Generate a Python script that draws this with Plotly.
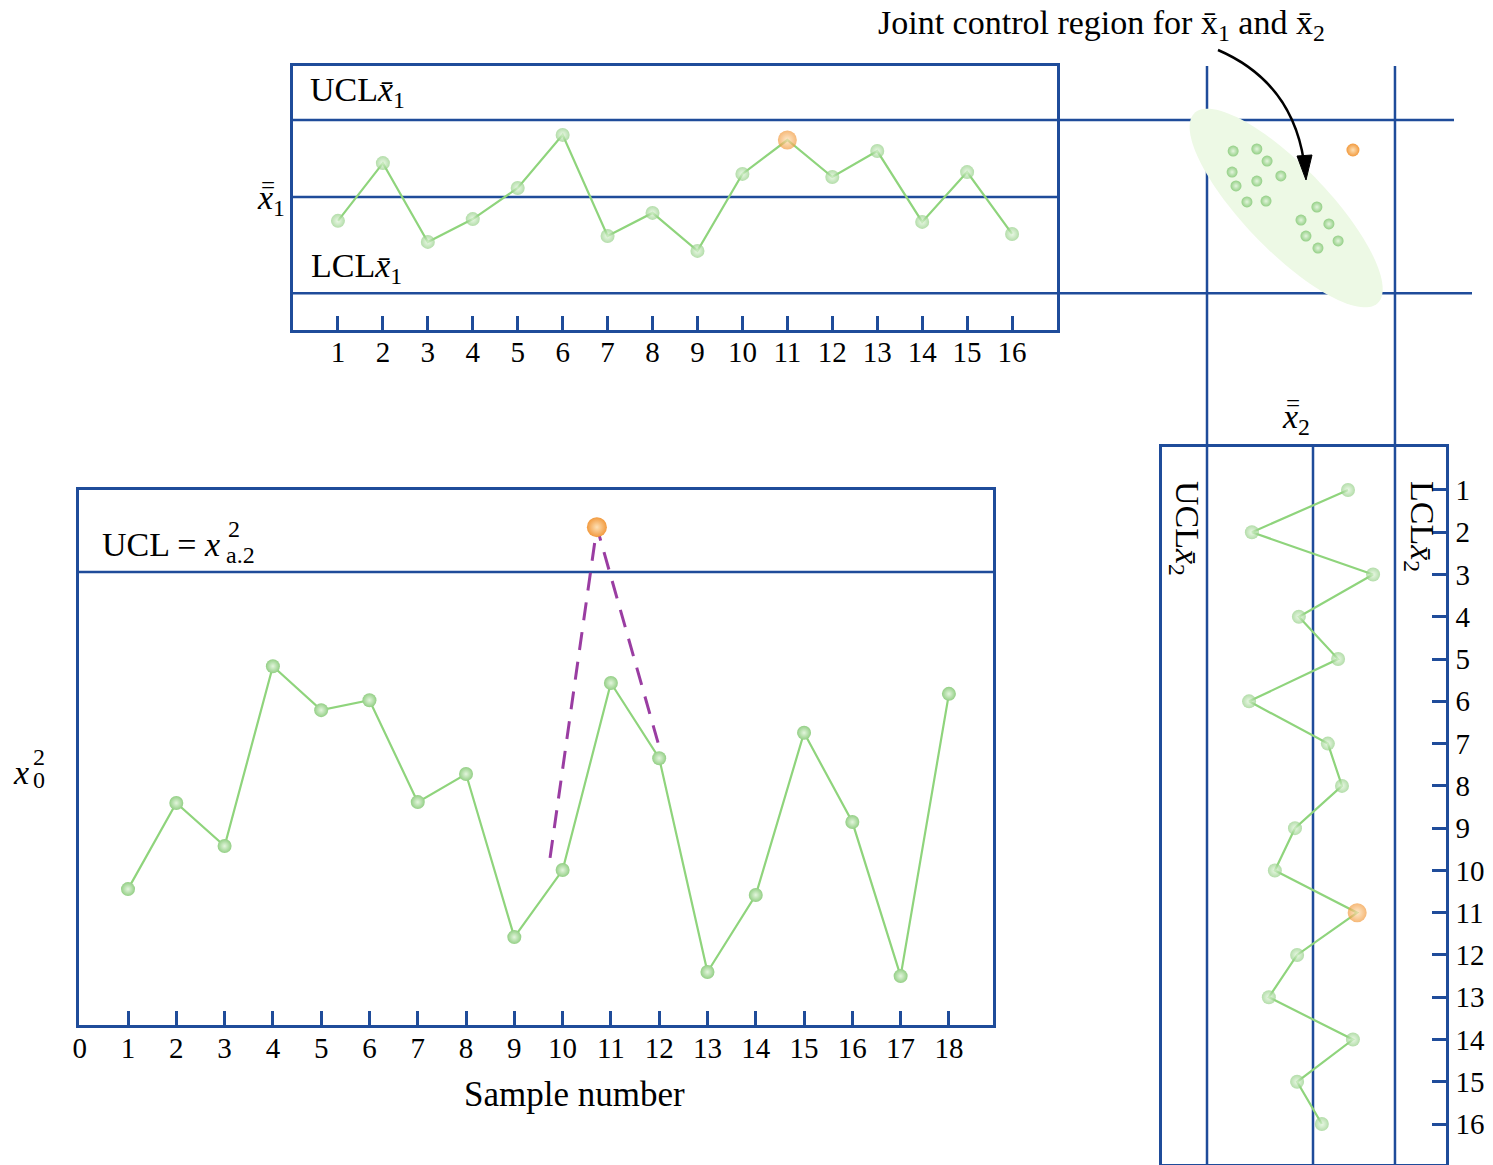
import plotly.graph_objects as go
import numpy as np

W, H = 1493, 1165
def X(px): return px / W
def Y(py): return 1 - py / H

BLUE = "#1f4c9a"
GREEN_LINE = "#8fd47c"
GREEN = "#93cf85"
GREEN_C = "#e3f5dd"
ORANGE = "#f29a3e"
ORANGE_C = "#fde0b5"
PURPLE = "#9a3da2"
FONT = "Liberation Serif"

# ---------------- data ----------------
# x-bar-1 chart (top)
samples16 = list(range(1, 17))
xbar1 = [9.07, 11.32, 8.25, 9.14, 10.35, 12.42, 8.48, 9.38, 7.90, 10.90, 12.22, 10.78, 11.79, 9.03, 10.97, 8.56]
xbar1_ucl, xbar1_center, xbar1_lcl = 13.0, 10.0, 6.25
out_sample = 11

# x-bar-2 chart (right, rotated)
xbar2 = [9.01, 11.73, 8.30, 10.40, 9.29, 11.81, 9.58, 9.18, 10.51, 11.08, 8.75, 10.45, 11.25, 8.87, 10.45, 9.75]
xbar2_ucl, xbar2_center, xbar2_lcl = 13.0, 10.0, 7.68

# chi-square chart (bottom)
samples18 = list(range(1, 19))
chi2 = [3.00, 4.90, 3.95, 7.92, 6.95, 7.17, 4.92, 5.54, 1.94, 3.42, 7.55, 5.89, 1.17, 2.87, 6.45, 4.48, 1.08, 7.31]
chi2_ucl = 10.0
chi2_out_x, chi2_out_y = [10.71], [10.99]
dash_x = [9.74, 10.71, 11.99]
dash_y = [3.69, 10.99, 6.18]

# joint control region scatter (x = x-bar-2, y = x-bar-1)
joint_x = [12.26, 11.59, 11.30, 12.29, 11.59, 10.91, 12.18, 11.87, 11.33, 9.89, 10.34, 9.55, 10.20, 9.29, 9.86]
joint_y = [11.79, 11.87, 11.40, 10.97, 10.62, 10.82, 10.43, 9.81, 9.84, 9.61, 9.10, 8.95, 8.48, 8.29, 8.01]
joint_out_x, joint_out_y = [8.87], [11.83]

# ---------------- axes geometry ----------------
top_xdom = [X(293), X(1057)]
top_ydom = [Y(330), Y(66)]
top_xrange = [0, 17]
top_yrange = [4.819, 15.103]

bot_xdom = [X(79), X(993)]
bot_ydom = [Y(1025), Y(490)]
bot_xrange = [-0.015, 18.913]
bot_yrange = [0, 11.81]

r_xdom = [X(1162), X(1446)]
r_ydom = [Y(1164), Y(447)]
r_xrange = [14.274, 6.236]
r_yrange = [16.945, -0.017]

fig = go.Figure()

def mk_colors(n, out_idx):
    c = [GREEN] * n; g = [GREEN_C] * n; s = [14] * n
    if out_idx is not None:
        c[out_idx] = ORANGE; g[out_idx] = ORANGE_C; s[out_idx] = 19
    return c, g, s

# top chart
c, g, s = mk_colors(16, out_sample - 1)
fig.add_trace(go.Scatter(x=samples16, y=xbar1, mode="lines+markers", xaxis="x", yaxis="y",
                         line=dict(color=GREEN_LINE, width=2.2),
                         marker=dict(color=c, size=s, gradient=dict(type="radial", color=g), line=dict(width=0))))

# bottom chart
fig.add_trace(go.Scatter(x=dash_x, y=dash_y, mode="lines", xaxis="x2", yaxis="y2",
                         line=dict(color=PURPLE, width=3, dash="18px,12px")))
fig.add_trace(go.Scatter(x=samples18, y=chi2, mode="lines+markers", xaxis="x2", yaxis="y2",
                         line=dict(color=GREEN_LINE, width=2.2),
                         marker=dict(color=GREEN, size=14, gradient=dict(type="radial", color=GREEN_C), line=dict(width=0))))
fig.add_trace(go.Scatter(x=chi2_out_x, y=chi2_out_y, mode="markers", xaxis="x2", yaxis="y2",
                         marker=dict(color=ORANGE, size=20, gradient=dict(type="radial", color=ORANGE_C), line=dict(width=0))))

# right chart
fig.add_trace(go.Scatter(x=xbar2, y=samples16, mode="lines+markers", xaxis="x3", yaxis="y3",
                         line=dict(color=GREEN_LINE, width=2.2),
                         marker=dict(color=c, size=s, gradient=dict(type="radial", color=g), line=dict(width=0))))

# joint region
fig.add_trace(go.Scatter(x=joint_x, y=joint_y, mode="markers", xaxis="x4", yaxis="y4",
                         marker=dict(color=GREEN, size=11, gradient=dict(type="radial", color=GREEN_C), line=dict(width=0))))
fig.add_trace(go.Scatter(x=joint_out_x, y=joint_out_y, mode="markers", xaxis="x4", yaxis="y4",
                         marker=dict(color=ORANGE, size=13, gradient=dict(type="radial", color=ORANGE_C), line=dict(width=0))))

# ---------------- ellipse (joint control region) ----------------
ell_cx, ell_cy = 10.76, 9.57          # centre in (x-bar-2, x-bar-1) units
ell_a, ell_b, ell_ang = 132, 42, np.deg2rad(46)   # semi axes (px) and tilt
px_per_x = (1446 - 1162) / (r_xrange[0] - r_xrange[1])
px_per_y = (330 - 66) / (top_yrange[1] - top_yrange[0])
t = np.linspace(0, 2 * np.pi, 120)
dxp = ell_a * np.cos(t) * np.cos(ell_ang) - ell_b * np.sin(t) * np.sin(ell_ang)
dyp = ell_a * np.cos(t) * np.sin(ell_ang) + ell_b * np.sin(t) * np.cos(ell_ang)
ex = ell_cx - dxp / px_per_x     # x axis is reversed
ey = ell_cy - dyp / px_per_y     # screen y is down
path = "M " + " L ".join(f"{a:.4f},{b:.4f}" for a, b in zip(ex, ey)) + " Z"

shapes = [
    dict(type="path", path=path, xref="x4", yref="y4", fillcolor="#edf9e5", line=dict(width=0), layer="below"),
    dict(type="line", xref="x domain", yref="y", x0=0, x1=1, y0=xbar1_center, y1=xbar1_center,
         line=dict(color=BLUE, width=2.5), layer="below"),
    dict(type="line", xref="paper", yref="y", x0=X(293), x1=X(1454), y0=xbar1_ucl, y1=xbar1_ucl,
         line=dict(color=BLUE, width=2.5), layer="below"),
    dict(type="line", xref="paper", yref="y", x0=X(293), x1=X(1472), y0=xbar1_lcl, y1=xbar1_lcl,
         line=dict(color=BLUE, width=2.5), layer="below"),
    dict(type="line", xref="x2 domain", yref="y2", x0=0, x1=1, y0=chi2_ucl, y1=chi2_ucl,
         line=dict(color=BLUE, width=2.5), layer="below"),
    dict(type="line", xref="x3", yref="y3 domain", x0=xbar2_center, x1=xbar2_center, y0=0, y1=1,
         line=dict(color=BLUE, width=2.5), layer="below"),
    dict(type="line", xref="x3", yref="paper", x0=xbar2_ucl, x1=xbar2_ucl, y0=Y(1165), y1=Y(66),
         line=dict(color=BLUE, width=2.5), layer="below"),
    dict(type="line", xref="x3", yref="paper", x0=xbar2_lcl, x1=xbar2_lcl, y0=Y(1165), y1=Y(66),
         line=dict(color=BLUE, width=2.5), layer="below"),
    dict(type="path", xref="paper", yref="paper",
         path=f"M {X(1218)},{Y(50)} Q {X(1292)},{Y(82)} {X(1304)},{Y(162)}",
         line=dict(color="black", width=2.5)),
    dict(type="path", xref="paper", yref="paper",
         path=f"M {X(1297)},{Y(156)} L {X(1312)},{Y(155)} L {X(1306)},{Y(180)} Z",
         fillcolor="black", line=dict(color="black", width=1)),
]

def ann(text, px, py, size=34, xanchor="left", yanchor="middle", angle=0):
    return dict(text=text, x=X(px), y=Y(py), xref="paper", yref="paper", showarrow=False,
                xanchor=xanchor, yanchor=yanchor, textangle=angle, borderpad=0,
                font=dict(family=FONT, size=size, color="black"))

annotations = [
    ann("Joint control region for x\u0304<sub>1</sub> and x\u0304<sub>2</sub>", 1101, 25, size=34, xanchor="center"),
    ann("UCL<i>x\u0304</i><sub>1</sub>", 309, 92, size=34),
    ann("LCL<i>x\u0304</i><sub>1</sub>", 310, 268, size=34),
    ann("<i>x</i><sub>1</sub>", 271, 200, size=34, xanchor="center"),
    ann("=", 268, 185, size=25, xanchor="center"),
    ann("<i>x</i><sub>2</sub>", 1296, 419, size=34, xanchor="center"),
    ann("=", 1293, 403, size=25, xanchor="center"),
    ann("UCL<i>x\u0304</i><sub>2</sub>", 1185, 528, size=34, xanchor="center", angle=90),
    ann("LCL<i>x\u0304</i><sub>2</sub>", 1420, 526, size=34, xanchor="center", angle=90),
    ann("UCL = <i>x</i>", 101, 544, size=34),
    ann("2", 234, 529, size=24, xanchor="center"),
    ann("a.2", 240, 555, size=24, xanchor="center"),
    ann("<i>x</i>", 12, 772, size=34),
    ann("2", 39, 757, size=24, xanchor="center"),
    ann("0", 39, 780, size=24, xanchor="center"),
    ann("Sample number", 574, 1094, size=35, xanchor="center"),
]

axis_common = dict(showgrid=False, zeroline=False, showline=True, mirror=True, automargin=False,
                   linecolor=BLUE, linewidth=2.5, fixedrange=True)
tick_common = dict(ticks="inside", ticklen=14, tickwidth=2.5, tickcolor=BLUE,
                   tickfont=dict(family=FONT, size=29, color="black"))

fig.update_layout(
    width=W, height=H, margin=dict(l=0, r=0, t=0, b=0, autoexpand=False),
    paper_bgcolor="white", plot_bgcolor="rgba(0,0,0,0)", showlegend=False,
    font=dict(family=FONT, color="black"),
    xaxis=dict(domain=top_xdom, range=top_xrange, anchor="y", tickmode="array", tickvals=samples16,
               ticklabelstandoff=-6, **axis_common, **tick_common),
    yaxis=dict(domain=top_ydom, range=top_yrange, anchor="x", showticklabels=False, ticks="", **axis_common),
    xaxis2=dict(domain=bot_xdom, range=bot_xrange, anchor="y2", tickmode="array", tickvals=[0] + samples18,
                ticklabelstandoff=-5, **axis_common, **tick_common),
    yaxis2=dict(domain=bot_ydom, range=bot_yrange, anchor="x2", showticklabels=False, ticks="", **axis_common),
    xaxis3=dict(domain=r_xdom, range=r_xrange, anchor="y3", showticklabels=False, ticks="", **axis_common),
    yaxis3=dict(domain=r_ydom, range=r_yrange, anchor="x3", side="right", tickmode="array", tickvals=samples16,
                ticklabelstandoff=1, **axis_common, **tick_common),
    xaxis4=dict(domain=r_xdom, range=r_xrange, anchor="y4", visible=False, fixedrange=True, automargin=False),
    yaxis4=dict(domain=top_ydom, range=top_yrange, anchor="x4", visible=False, fixedrange=True, automargin=False),
    shapes=shapes, annotations=annotations,
)

fig.write_html("out.html")
